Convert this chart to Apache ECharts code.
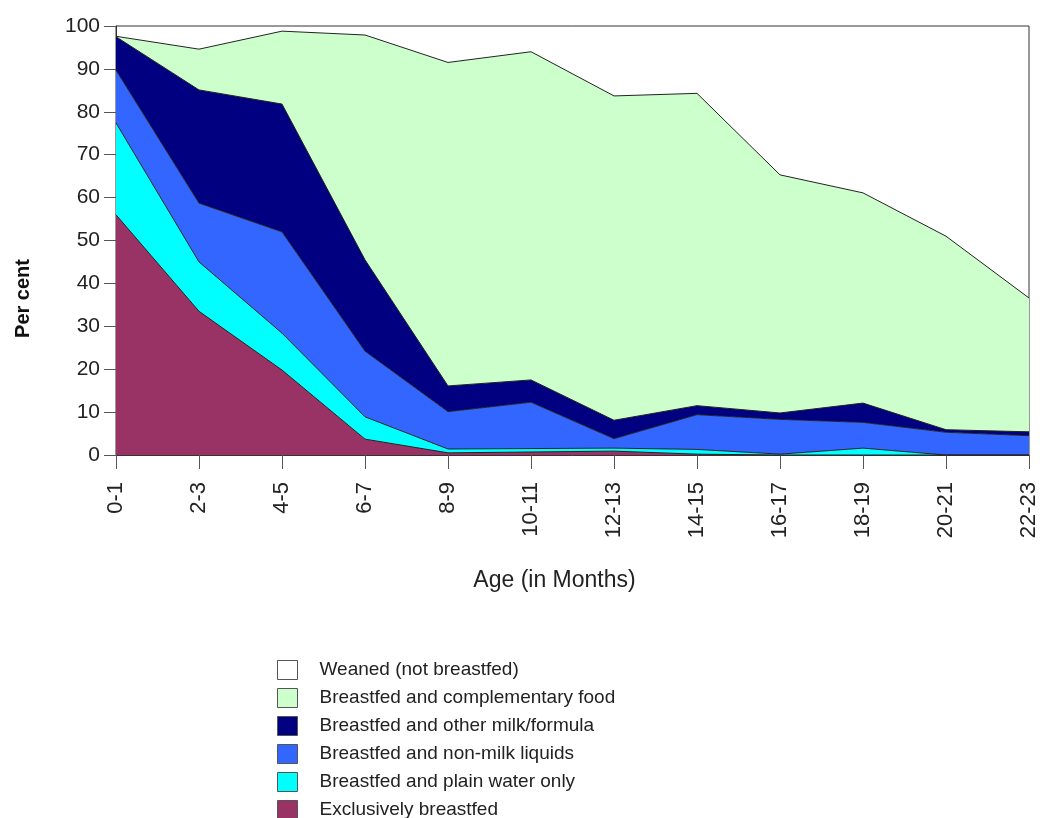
<!DOCTYPE html>
<html>
<head>
<meta charset="utf-8">
<script src="https://cdn.jsdelivr.net/npm/echarts@6/dist/echarts.min.js"></script>
<style>
  html, body { margin: 0; padding: 0; background: #fff; }
  #chart { width: 1043px; height: 818px; }
</style>
</head>
<body>
<div id="chart"></div>
<script>
// age groups (months)
const ageGroups = ['0-1', '2-3', '4-5', '6-7', '8-9', '10-11', '12-13', '14-15', '16-17', '18-19', '20-21', '22-23']

// per cent in each feeding category
const exclusive     = [56, 33.5, 19.8, 3.7, 0.5, 0.7, 0.9, 0.2, 0, 0, 0, 0]
const plainWater    = [21.4, 11.5, 8.6, 5.2, 0.9, 0.8, 0.7, 1.1, 0.2, 1.6, 0, 0]
const nonMilk       = [12.3, 13.7, 23.6, 15.3, 8.7, 10.8, 2.2, 8.1, 8.1, 6.0, 5.3, 4.5]
const otherMilk     = [7.8, 26.4, 29.8, 21.3, 6.0, 5.2, 4.3, 2.1, 1.5, 4.5, 0.6, 0.9]
const complementary = [0.1, 9.5, 17.0, 52.4, 75.4, 76.5, 75.6, 72.8, 55.5, 49.0, 45.1, 31.2]
const weaned        = [2.4, 5.4, 1.2, 2.1, 8.5, 6.0, 16.3, 15.7, 34.7, 38.9, 49.0, 63.4]

const font = 'Liberation Sans, Arial, Helvetica, sans-serif'

function area (name, data, color, z) {
  return {
    name: name,
    type: 'line',
    stack: 'total',
    data: data,
    symbol: 'none',
    z: z,
    itemStyle: { color: color },
    lineStyle: { color: '#222', width: 1 },
    areaStyle: { color: color, opacity: 1 }
  }
}

const chart = echarts.init(document.getElementById('chart'))
chart.setOption({
  animation: false,
  textStyle: { fontFamily: font },
  grid: {
    left: 116,
    right: 14,
    top: 26,
    bottom: 363,
    show: true,
    borderColor: '#333',
    borderWidth: 1,
    backgroundColor: 'transparent'
  },
  legend: {
    orient: 'vertical',
    left: 277,
    top: 660,
    height: 200,
    padding: 0,
    itemWidth: 20,
    itemHeight: 19,
    itemGap: 8,
    icon: 'rect',
    textStyle: { color: '#222', fontSize: 19, lineHeight: 19, fontFamily: font, padding: [0, 0, 0, 17] },
    data: [
      { name: 'Weaned (not breastfed)', itemStyle: { color: '#ffffff', borderColor: '#555', borderWidth: 1 } },
      { name: 'Breastfed and complementary food', itemStyle: { color: '#ccffcc', borderColor: '#555', borderWidth: 1 } },
      { name: 'Breastfed and other milk/formula', itemStyle: { color: '#000080', borderColor: '#555', borderWidth: 1 } },
      { name: 'Breastfed and non-milk liquids', itemStyle: { color: '#3366ff', borderColor: '#555', borderWidth: 1 } },
      { name: 'Breastfed and plain water only', itemStyle: { color: '#00ffff', borderColor: '#555', borderWidth: 1 } },
      { name: 'Exclusively breastfed', itemStyle: { color: '#993366', borderColor: '#555', borderWidth: 1 } }
    ]
  },
  xAxis: {
    type: 'category',
    data: ageGroups,
    boundaryGap: false,
    name: 'Age (in Months)',
    nameLocation: 'middle',
    nameGap: 114,
    nameTextStyle: { color: '#222', fontSize: 23, fontFamily: font, padding: [0, 36, 0, 0] },
    axisLine: { lineStyle: { color: '#333', width: 1 } },
    axisTick: { alignWithLabel: true, length: 14, lineStyle: { color: '#555' } },
    axisLabel: { rotate: 90, margin: 27, color: '#222', fontSize: 22, fontFamily: font, interval: 0 },
    splitLine: { show: false }
  },
  yAxis: {
    type: 'value',
    min: 0,
    max: 100,
    interval: 10,
    name: 'Per cent',
    nameLocation: 'middle',
    nameRotate: 90,
    nameGap: 83,
    nameTextStyle: { color: '#111', fontSize: 20, fontWeight: 'bold', fontFamily: font, padding: [0, 116, 0, 0] },
    axisLine: { show: true, lineStyle: { color: '#333', width: 1 } },
    axisTick: { show: true, length: 12, lineStyle: { color: '#555' } },
    axisLabel: { margin: 16, color: '#222', fontSize: 21, fontFamily: font },
    splitLine: { show: false }
  },
  series: [
    area('Exclusively breastfed', exclusive, '#993366', 8),
    area('Breastfed and plain water only', plainWater, '#00ffff', 7),
    area('Breastfed and non-milk liquids', nonMilk, '#3366ff', 6),
    area('Breastfed and other milk/formula', otherMilk, '#000080', 5),
    area('Breastfed and complementary food', complementary, '#ccffcc', 4),
    {
      name: 'Weaned (not breastfed)',
      type: 'line',
      stack: 'total',
      data: weaned,
      symbol: 'none',
      z: 3,
      itemStyle: { color: '#ffffff' },
      lineStyle: { width: 0 },
      areaStyle: { color: '#ffffff', opacity: 0 }
    }
  ]
})
</script>
</body>
</html>
